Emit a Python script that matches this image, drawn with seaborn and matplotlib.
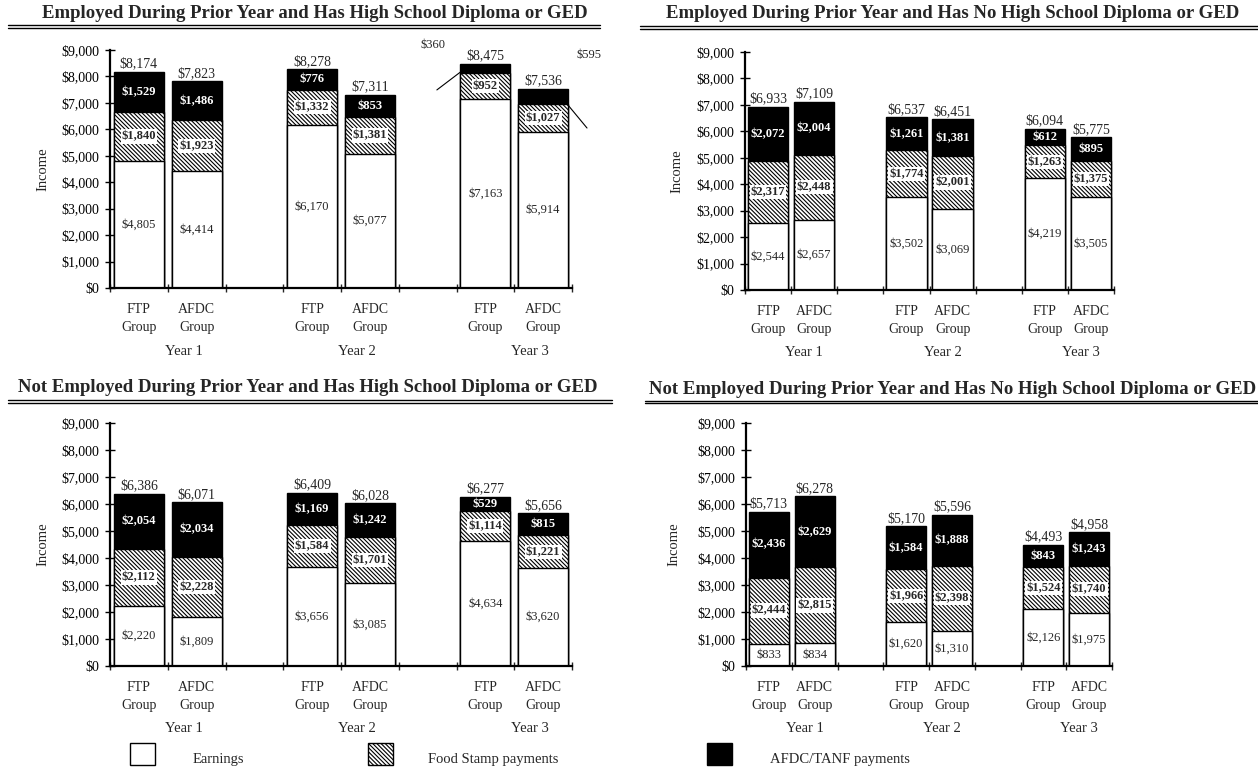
import numpy as np
import pandas as pd
import matplotlib
matplotlib.use("Agg")
import matplotlib.pyplot as plt
from matplotlib.patches import Rectangle
from matplotlib.lines import Line2D
import seaborn as sns

# ---------------------------------------------------------------- data
titles = [
    "Employed During Prior Year and Has High School Diploma or GED",
    "Employed During Prior Year and Has No High School Diploma or GED",
    "Not Employed During Prior Year and Has High School Diploma or GED",
    "Not Employed During Prior Year and Has No High School Diploma or GED",
]
group_labels = ["FTP\nGroup", "AFDC\nGroup"] * 3
year_labels = ["Year 1", "Year 2", "Year 3"]
series_names = ["Earnings", "Food Stamp payments", "AFDC/TANF payments"]

# order of bars: Y1 FTP, Y1 AFDC, Y2 FTP, Y2 AFDC, Y3 FTP, Y3 AFDC
earn_emp_hs = [4805, 4414, 6170, 5077, 7163, 5914]
food_emp_hs = [1840, 1923, 1332, 1381, 952, 1027]
afdc_emp_hs = [1529, 1486, 776, 853, 360, 595]

earn_emp_nohs = [2544, 2657, 3502, 3069, 4219, 3505]
food_emp_nohs = [2317, 2448, 1774, 2001, 1263, 1375]
afdc_emp_nohs = [2072, 2004, 1261, 1381, 612, 895]

earn_notemp_hs = [2220, 1809, 3656, 3085, 4634, 3620]
food_notemp_hs = [2112, 2228, 1584, 1701, 1114, 1221]
afdc_notemp_hs = [2054, 2034, 1169, 1242, 529, 815]

earn_notemp_nohs = [833, 834, 1620, 1310, 2126, 1975]
food_notemp_nohs = [2444, 2815, 1966, 2398, 1524, 1740]
afdc_notemp_nohs = [2436, 2629, 1584, 1888, 843, 1243]

panels = [
    (earn_emp_hs, food_emp_hs, afdc_emp_hs),
    (earn_emp_nohs, food_emp_nohs, afdc_emp_nohs),
    (earn_notemp_hs, food_notemp_hs, afdc_notemp_hs),
    (earn_notemp_nohs, food_notemp_nohs, afdc_notemp_nohs),
]

# ---------------------------------------------------------------- layout
W, H = 1258, 773
SLOTS = [0, 1, 3, 4, 6, 7]          # an empty slot separates the years
BAR_W = 0.87
HATCH = "\\" * 8
SERIF = ["Liberation Serif", "DejaVu Serif"]

# axes boxes in pixels: left, top, right, bottom
boxes = [
    (110, 50, 572, 288),
    (745, 52, 1114, 290),
    (110, 423, 572, 666),
    (746, 423, 1112, 666),
]
# title centre x, title y, underline x0, x1, underline y
title_pos = [
    (315, 13, 8, 600, 25),
    (953, 13, 640, 1258, 26),
    (308, 388, 8, 612, 400),
    (953, 389, 645, 1258, 401),
]
ylabel_x = [42, 676, 42, 673]

# small AFDC segments whose labels sit outside the bar:
# (panel, bar index, label x, label y, line start (x, y), line end (x, y))
callouts = [
    (0, 4, 5.1, 9190, (5.16, 7490), (5.57, 8170)),
    (0, 5, 7.8, 8800, (7.43, 6920), (7.76, 6050)),
]

sns.set_theme(style="ticks")
plt.rcParams["font.family"] = SERIF
plt.rcParams["hatch.linewidth"] = 0.8
plt.rcParams["hatch.color"] = "black"

fig = plt.figure(figsize=(W / 100, H / 100), dpi=100)
fig.patch.set_facecolor("white")


def fig_rect(l, t, r, b):
    return [l / W, 1 - b / H, (r - l) / W, (b - t) / H]


for p, (earn, food, afdc) in enumerate(panels):
    ax = fig.add_axes(fig_rect(*boxes[p]))
    ax.set_facecolor("white")
    df = pd.DataFrame({"x": SLOTS, "earn": earn, "food": food, "afdc": afdc})
    df["mid"] = df["earn"] + df["food"]
    df["total"] = df["mid"] + df["afdc"]

    common = dict(data=df, x="x", native_scale=True, width=BAR_W, errorbar=None,
                  saturation=1, edgecolor="black", linewidth=1.0, ax=ax)
    # cumulative layers drawn back to front
    sns.barplot(y="total", color="black", **common)
    sns.barplot(y="mid", color="white", hatch=HATCH, **common)
    sns.barplot(y="earn", color="white", **common)

    outside = {c[1]: c for c in callouts if c[0] == p}
    for i, row in df.iterrows():
        x = row["x"]
        ax.text(x, row["earn"] / 2, f"${row['earn']:,}", ha="center", va="center",
                fontsize=9)
        ax.text(x, row["earn"] + row["food"] / 2, f"${row['food']:,}", ha="center",
                va="center", fontsize=9, fontweight="bold",
                bbox=dict(facecolor="white", edgecolor="none", pad=0.8))
        if i in outside:
            _, _, lx, ly, (x0, y0), (x1, y1) = outside[i]
            ax.text(lx, ly, f"${row['afdc']:,}", ha="center", va="center",
                    fontsize=9, clip_on=False)
            ax.plot([x0, x1], [y0, y1], color="black", lw=0.8, clip_on=False)
        else:
            ax.text(x, row["mid"] + row["afdc"] / 2, f"${row['afdc']:,}",
                    ha="center", va="center", fontsize=9, fontweight="bold",
                    color="white")
        ax.annotate(f"${row['total']:,}", xy=(x, row["total"]), xytext=(0, 1),
                    textcoords="offset points", ha="center", va="bottom",
                    fontsize=10)

    ax.set_xlim(-0.5, 7.5)
    ax.set_ylim(0, 9000)
    ax.set_yticks(np.arange(0, 9001, 1000))
    ax.set_yticklabels([f"${v:,}" for v in range(0, 9001, 1000)])
    ax.set_xticks(np.arange(-0.5, 8.0, 1.0))
    ax.set_xticklabels([])
    ax.set_xticks(SLOTS, labels=group_labels, minor=True)
    for lbl in ax.get_xticklabels(minor=True):
        lbl.set_linespacing(1.45)
    ax.tick_params(axis="y", direction="inout", length=7, width=1, pad=4,
                   labelsize=10, colors="black")
    ax.tick_params(axis="x", which="major", direction="inout", length=6, width=1)
    ax.tick_params(axis="x", which="minor", length=0, pad=11, labelsize=10)
    ax.set_xlabel("")
    ax.set_ylabel("Income", fontsize=10.5)
    l, t, r, b = boxes[p]
    ax.yaxis.set_label_coords((ylabel_x[p] + 7 - l) / (r - l), 0.5)
    for s in ["top", "right"]:
        ax.spines[s].set_visible(False)
    for s in ["left", "bottom"]:
        ax.spines[s].set_linewidth(1.6)
        ax.spines[s].set_color("black")

    for k, yl in enumerate(year_labels):
        ax.annotate(yl, xy=(SLOTS[2 * k] + 0.78, 0), xycoords=("data", "axes fraction"),
                    xytext=(0, -63 * 0.72), textcoords="offset points",
                    ha="center", va="center", fontsize=10.5)

    cx, ty, ux0, ux1, uy = title_pos[p]
    fig.text(cx / W, 1 - ty / H, titles[p], ha="center", va="center",
             fontsize=13.5, fontweight="bold")
    for dy in (0, 2.5):
        fig.add_artist(Line2D([ux0 / W, ux1 / W], [1 - (uy + dy) / H] * 2,
                              color="black", lw=1.0, transform=fig.transFigure))

# ---------------------------------------------------------------- legend
legend_items = [
    (130, 193, dict(facecolor="white")),
    (368, 428, dict(facecolor="white", hatch=HATCH)),
    (707, 770, dict(facecolor="black")),
]
for (bx, tx, style), name in zip(legend_items, series_names):
    fig.add_artist(Rectangle((bx / W, 1 - 765 / H), 25 / W, 22 / H,
                             transform=fig.transFigure, edgecolor="black",
                             linewidth=1.0, **style))
    fig.text(tx / W, 1 - 760 / H, name, ha="left", va="center", fontsize=10.5)

fig.savefig("out.png", dpi=100, facecolor="white")
